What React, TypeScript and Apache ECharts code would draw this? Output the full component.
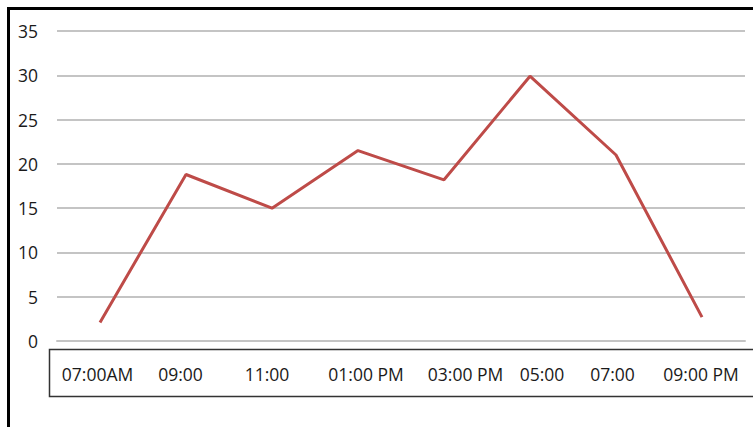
import React, { useEffect, useRef } from "react";
import * as echarts from "echarts";

const categories = ["07:00AM", "09:00", "11:00", "01:00 PM", "03:00 PM", "05:00", "07:00", "09:00 PM"];
const values = [2.1, 18.8, 15.0, 21.5, 18.2, 29.9, 21.0, 2.7];
const yTicks = { min: 0, max: 35, interval: 5 };
// horizontal nudge of each category label (px), as in the original layout
const labelShift = [-2.5, -5.5, -5, 8, 21.5, 12, -3.5, -1];

const FONT = "'Open Sans', sans-serif";

export default function App() {
  const ref = useRef<HTMLDivElement>(null);
  useEffect(() => {
    if (!ref.current) return;
    const chart = echarts.init(ref.current, null, { renderer: "svg" });
    const xData = categories.map((c, i) => {
      const s = labelShift[i];
      const pad = s >= 0 ? [0, 0, 0, 2 * s] : [0, -2 * s, 0, 0];
      return { value: c, textStyle: { padding: pad } };
    });
    chart.setOption({
      animation: false,
      backgroundColor: "#ffffff",
      grid: { left: 57, right: 8, top: 31, bottom: 86 },
      xAxis: {
        type: "category",
        data: xData,
        boundaryGap: true,
        axisLine: { show: true, lineStyle: { color: "#c4c4c4", width: 2 } },
        axisTick: { show: false },
        axisLabel: {
          margin: 24,
          color: "#1a1a1a",
          fontSize: 17.5,
          fontFamily: FONT,
          interval: 0,
        },
      },
      yAxis: {
        type: "value",
        min: yTicks.min,
        max: yTicks.max,
        interval: yTicks.interval,
        axisLine: { show: false },
        axisTick: { show: false },
        splitLine: { lineStyle: { color: "#c4c4c4", width: 2 } },
        axisLabel: { margin: 19, color: "#1a1a1a", fontSize: 17.5, fontFamily: FONT },
      },
      series: [
        {
          type: "line",
          data: values,
          symbol: "none",
          lineStyle: { color: "#be4b48", width: 3 },
        },
      ],
      graphic: [
        {
          type: "rect",
          shape: { x: 49.5, y: 349.5, width: 720, height: 47 },
          style: { fill: "none", stroke: "#333333", lineWidth: 1.5 },
          z: 10,
        },
        {
          type: "rect",
          shape: { x: 8.5, y: 8.5, width: 760, height: 440 },
          style: { fill: "none", stroke: "#000000", lineWidth: 3 },
          z: 10,
        },
      ],
    });
    return () => chart.dispose();
  }, []);
  return (
    <div
      ref={ref}
      style={{ position: "absolute", left: 0, top: 0, width: 753, height: 427 }}
    />
  );
}
